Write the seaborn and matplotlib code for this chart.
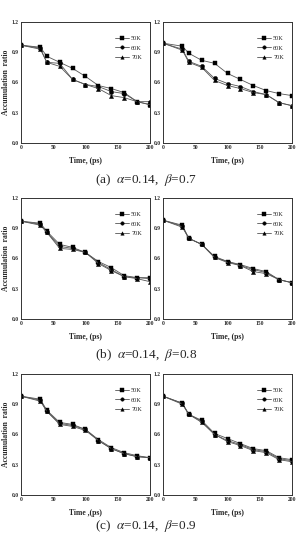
import matplotlib
matplotlib.use("Agg")
import matplotlib.pyplot as plt
import seaborn as sns
import pandas as pd

sns.set_style("white")
plt.rcParams['font.family'] = ['Liberation Serif', 'DejaVu Serif']
plt.rcParams['mathtext.fontset'] = 'stix'

time = [0, 30, 40, 60, 80, 100, 120, 140, 160, 180, 200]
temps = ["50K", "60K", "70K"]

a_left_50 = [0.97, 0.95, 0.86, 0.80, 0.74, 0.66, 0.57, 0.54, 0.50, 0.41, 0.38]
a_left_60 = [0.97, 0.94, 0.80, 0.79, 0.63, 0.58, 0.56, 0.51, 0.49, 0.41, 0.41]
a_left_70 = [0.97, 0.93, 0.80, 0.76, 0.63, 0.58, 0.54, 0.47, 0.45, 0.41, 0.38]

a_right_50 = [0.99, 0.96, 0.89, 0.82, 0.79, 0.69, 0.63, 0.57, 0.52, 0.49, 0.47]
a_right_60 = [0.99, 0.93, 0.81, 0.76, 0.64, 0.59, 0.56, 0.51, 0.48, 0.40, 0.37]
a_right_70 = [0.99, 0.92, 0.80, 0.75, 0.62, 0.57, 0.54, 0.50, 0.48, 0.40, 0.37]

b_left_50 = [0.97, 0.95, 0.87, 0.74, 0.71, 0.66, 0.57, 0.51, 0.43, 0.41, 0.41]
b_left_60 = [0.97, 0.94, 0.86, 0.72, 0.70, 0.66, 0.56, 0.49, 0.42, 0.41, 0.40]
b_left_70 = [0.97, 0.93, 0.86, 0.70, 0.69, 0.66, 0.55, 0.48, 0.42, 0.40, 0.37]

b_right_50 = [0.98, 0.93, 0.80, 0.74, 0.62, 0.57, 0.54, 0.50, 0.47, 0.39, 0.36]
b_right_60 = [0.98, 0.92, 0.80, 0.74, 0.61, 0.57, 0.53, 0.49, 0.46, 0.39, 0.36]
b_right_70 = [0.98, 0.91, 0.80, 0.74, 0.61, 0.56, 0.53, 0.47, 0.45, 0.39, 0.36]

c_left_50 = [0.98, 0.95, 0.84, 0.72, 0.70, 0.65, 0.55, 0.47, 0.42, 0.39, 0.37]
c_left_60 = [0.98, 0.94, 0.83, 0.71, 0.69, 0.65, 0.54, 0.46, 0.41, 0.38, 0.37]
c_left_70 = [0.98, 0.93, 0.83, 0.70, 0.68, 0.64, 0.54, 0.46, 0.41, 0.38, 0.37]

c_right_50 = [0.98, 0.91, 0.80, 0.74, 0.61, 0.56, 0.51, 0.46, 0.44, 0.37, 0.35]
c_right_60 = [0.98, 0.91, 0.80, 0.73, 0.60, 0.54, 0.50, 0.45, 0.43, 0.36, 0.34]
c_right_70 = [0.98, 0.90, 0.80, 0.72, 0.60, 0.53, 0.49, 0.44, 0.42, 0.35, 0.33]

xticks = [0, 50, 100, 150, 200]
yticks = [0.0, 0.3, 0.6, 0.9, 1.2]
ytick_labels = ["0.0", "0.3", "0.6", "0.9", "1.2"]

captions = [r"(a)  $\alpha$=0.14,  $\beta$=0.7",
            r"(b)  $\alpha$=0.14,  $\beta$=0.8",
            r"(c)  $\alpha$=0.14,  $\beta$=0.9"]
xlabels = [["Time, (ps)", "Time, (ps)"],
           ["Time, (ps)", "Time, (ps)"],
           ["Time ,(ps)", "Time, (ps)"]]

panels = [[(a_left_50, a_left_60, a_left_70), (a_right_50, a_right_60, a_right_70)],
          [(b_left_50, b_left_60, b_left_70), (b_right_50, b_right_60, b_right_70)],
          [(c_left_50, c_left_60, c_left_70), (c_right_50, c_right_60, c_right_70)]]

W, H = 298, 535
fig = plt.figure(figsize=(W / 100, H / 100), dpi=100)

row_tops = [22, 198, 374]
col_lefts = [21, 163]
ax_w, ax_h = 129, 121
caption_y = [180, 355, 526]

for r in range(3):
    for c in range(2):
        left = col_lefts[c] / W
        bottom = 1 - (row_tops[r] + ax_h) / H
        ax = fig.add_axes([left, bottom, ax_w / W, ax_h / H])
        series = panels[r][c]
        df = pd.DataFrame({
            "time": time * 3,
            "ratio": list(series[0]) + list(series[1]) + list(series[2]),
            "temp": [temps[0]] * len(time) + [temps[1]] * len(time) + [temps[2]] * len(time),
        })
        sns.lineplot(data=df, x="time", y="ratio", hue="temp", style="temp",
                     markers=["s", "o", "^"], dashes=False,
                     palette=["#555555"] * 3, linewidth=0.6,
                     markersize=3, markeredgewidth=0.3,
                     markerfacecolor="black", markeredgecolor="black",
                     ax=ax, legend=True)
        ax.set_xlim(0, 200)
        ax.set_ylim(0, 1.2)
        ax.set_xticks(xticks)
        ax.set_xticklabels([str(t) for t in xticks], fontsize=4, fontweight="bold")
        ax.set_yticks(yticks)
        ax.set_yticklabels(ytick_labels, fontsize=4, fontweight="bold")
        ax.tick_params(direction="in", length=2, width=0.5, pad=1.5)
        for s in ax.spines.values():
            s.set_linewidth(0.7)
            s.set_color("#333333")
        ax.set_xlabel(xlabels[r][c], fontsize=5.5, fontweight="bold", labelpad=5)
        if c == 0:
            ax.set_ylabel("Accumulation  ratio", fontsize=5.5, fontweight="bold", labelpad=1.5)
        else:
            ax.set_ylabel("")
        leg = ax.legend(loc="upper right", frameon=False, fontsize=4.5,
                        handlelength=2.2, handletextpad=0.3, labelspacing=0.6,
                        bbox_to_anchor=(0.98, 0.93))
        for h in leg.legend_handles:
            h.set_color("#555555")
            h.set_markerfacecolor("black")
            h.set_markeredgecolor("black")
            h.set_markersize(2.5)
            h.set_linewidth(0.6)
    fig.text(146 / W, 1 - caption_y[r] / H, captions[r], ha="center", va="center",
             fontsize=9.5)

fig.savefig("out.png", dpi=100)
